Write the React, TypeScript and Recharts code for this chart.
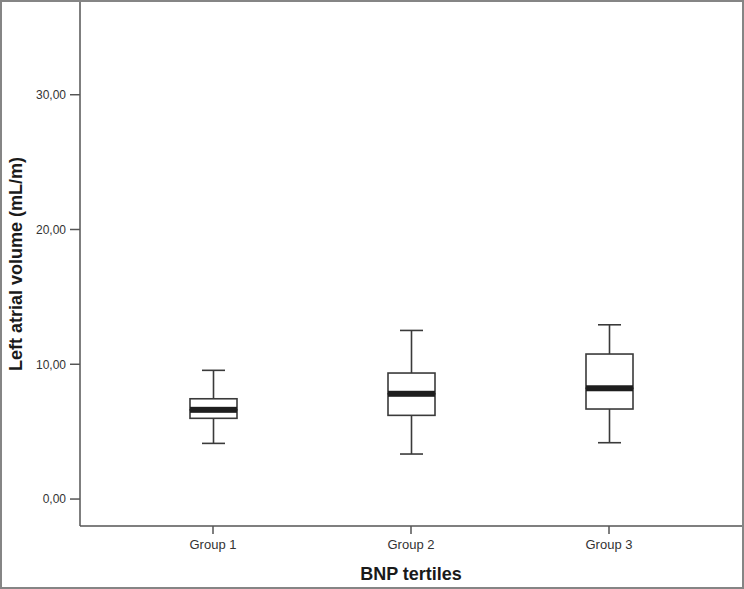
import React from 'react';
import { ComposedChart, Bar, XAxis, YAxis } from 'recharts';

// box plot values (mL/m)
const groups = ['Group 1', 'Group 2', 'Group 3'];
const mins = [4.13, 3.34, 4.18];
const q1s = [5.99, 6.21, 6.68];
const medians = [6.62, 7.81, 8.22];
const q3s = [7.44, 9.35, 10.76];
const maxs = [9.55, 12.51, 12.93];
const yTicks = [0, 10, 20, 30];

const data = groups.map((name, i) => ({
  name,
  base: mins[i],
  lowWhisk: q1s[i] - mins[i],
  lowBox: medians[i] - q1s[i],
  upBox: q3s[i] - medians[i],
  upWhisk: maxs[i] - q3s[i],
}));

const LINE = '#3a3a3a';
const CAP = 11.5;
const FONT = '"Liberation Sans", Arial, sans-serif';

const LowWhisker = (props: any) => {
  const { x, y, width, height } = props;
  const cx = x + width / 2;
  return (
    <g stroke={LINE} strokeWidth={1.6}>
      <line x1={cx} x2={cx} y1={y} y2={y + height} />
      <line x1={cx - CAP} x2={cx + CAP} y1={y + height} y2={y + height} />
    </g>
  );
};

const UpWhisker = (props: any) => {
  const { x, y, width, height } = props;
  const cx = x + width / 2;
  return (
    <g stroke={LINE} strokeWidth={1.6}>
      <line x1={cx} x2={cx} y1={y} y2={y + height} />
      <line x1={cx - CAP} x2={cx + CAP} y1={y} y2={y} />
    </g>
  );
};

const LowBox = (props: any) => {
  const { x, y, width, height } = props;
  return <rect x={x} y={y} width={width} height={height} fill="#fff" stroke={LINE} strokeWidth={1.6} />;
};

const UpBox = (props: any) => {
  const { x, y, width, height } = props;
  return (
    <g>
      <rect x={x} y={y} width={width} height={height} fill="#fff" stroke={LINE} strokeWidth={1.6} />
      <rect x={x} y={y + height - 3} width={width} height={6} fill="#1e1e1e" />
    </g>
  );
};

const fmt = (v: number) => v.toFixed(2).replace('.', ',');

export default function App() {
  return (
    <div
      style={{
        position: 'absolute',
        left: 0,
        top: 0,
        width: 744,
        height: 589,
        boxSizing: 'border-box',
        border: '2px solid #858585',
        background: '#fff',
      }}
    >
      <ComposedChart width={740} height={585} data={data} margin={{ top: 0, right: 0, bottom: 0, left: 0 }}>
        <XAxis
          dataKey="name"
          height={61}
          padding={{ left: 34, right: 34 }}
          stroke="#555"
          strokeWidth={1.5}
          tickSize={8}
          tickMargin={6}
          tick={{ fill: '#333', fontSize: 13, fontFamily: FONT }}
          label={{
            value: 'BNP tertiles',
            position: 'insideBottom',
            offset: 7,
            style: { fill: '#1a1a1a', fontSize: 18, fontWeight: 'bold', fontFamily: FONT },
          }}
        />
        <YAxis
          type="number"
          domain={[-2.0, 36.88]}
          ticks={yTicks}
          tickFormatter={fmt}
          width={78}
          stroke="#555"
          strokeWidth={1.5}
          tickSize={10}
          tickMargin={4}
          tick={{ fill: '#333', fontSize: 12, fontFamily: FONT }}
          label={{
            value: 'Left atrial volume (mL/m)',
            angle: -90,
            position: 'insideLeft',
            offset: 14,
            style: { textAnchor: 'middle', fill: '#1a1a1a', fontSize: 18, fontWeight: 'bold', fontFamily: FONT },
          }}
        />
        <Bar dataKey="base" stackId="box" fill="transparent" barSize={47} isAnimationActive={false} />
        <Bar dataKey="lowWhisk" stackId="box" shape={LowWhisker} barSize={47} isAnimationActive={false} />
        <Bar dataKey="lowBox" stackId="box" shape={LowBox} barSize={47} isAnimationActive={false} />
        <Bar dataKey="upBox" stackId="box" shape={UpBox} barSize={47} isAnimationActive={false} />
        <Bar dataKey="upWhisk" stackId="box" shape={UpWhisker} barSize={47} isAnimationActive={false} />
      </ComposedChart>
    </div>
  );
}
